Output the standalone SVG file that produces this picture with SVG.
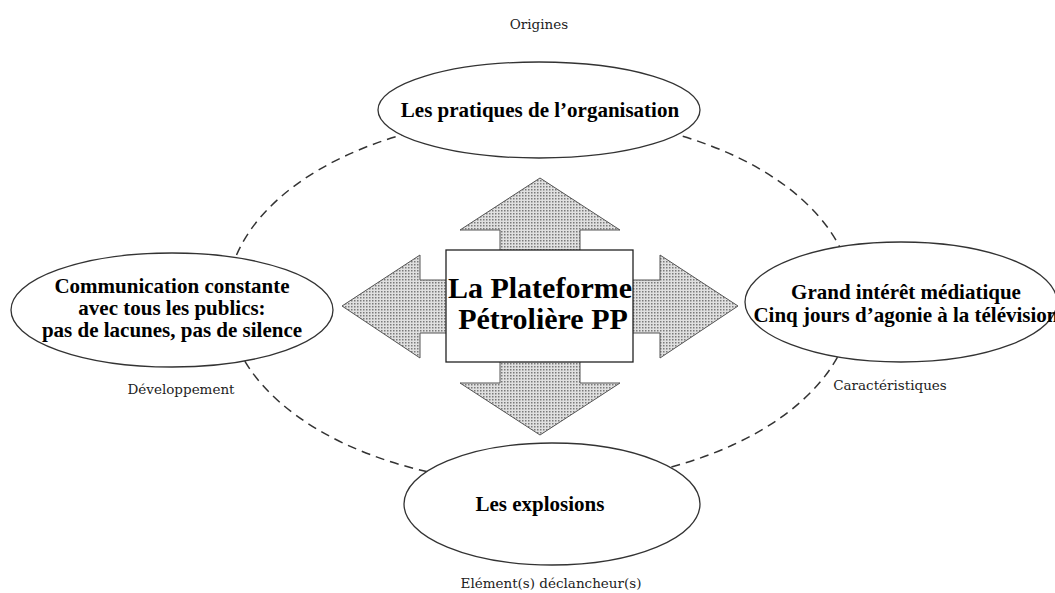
<svg xmlns="http://www.w3.org/2000/svg" width="1055" height="593" viewBox="0 0 1055 593">
<style>
.node{fill:#fff;stroke:#333;stroke-width:1.3}
.arrow{fill:url(#dots);stroke:#555;stroke-width:1}
.t{font-family:"Liberation Serif","Times New Roman",serif;font-weight:bold;font-size:21px;fill:#000;text-anchor:middle}
.big{font-family:"Liberation Serif","Times New Roman",serif;font-weight:bold;font-size:30px;fill:#000;text-anchor:middle}
.lab{font-family:"DejaVu Serif","Liberation Serif",serif;font-size:13.5px;fill:#222;text-anchor:middle}
.dash{fill:none;stroke:#333;stroke-width:1.5;stroke-dasharray:9 6}
</style>
<defs>
<pattern id="dots" width="3" height="3" patternUnits="userSpaceOnUse">
<rect width="3" height="3" fill="#e0e0e0"/>
<rect width="1.5" height="1.5" fill="#7a7a7a"/>
</pattern>
</defs>
<rect width="1055" height="593" fill="#fff"/>
<g id="connectors">
<ellipse class="dash" cx="540" cy="300" rx="313" ry="184"/>
</g>
<g id="center">
<polygon class="arrow" points="540,178 620,230 580,230 580,260 500,260 500,230 460,230"/>
<polygon class="arrow" points="540,435 620,383 580,383 580,350 500,350 500,383 460,383"/>
<polygon class="arrow" points="342,306 420,255 420,280 456,280 456,333 420,333 420,358"/>
<polygon class="arrow" points="738,306 660,255 660,280 623,280 623,333 660,333 660,358"/>
<rect x="446" y="250" width="187" height="112" fill="#fff" stroke="#222" stroke-width="1.3"/>
<text class="big" x="540" y="298">La Plateforme</text>
<text class="big" x="543" y="329">Pétrolière PP</text>
</g>
<g id="node-top">
<ellipse class="node" cx="539" cy="110" rx="161" ry="48"/>
<text class="t" x="540" y="117">Les pratiques de l’organisation</text>
</g>
<g id="node-left">
<ellipse class="node" cx="172" cy="310" rx="161" ry="57"/>
<text class="t" x="172" y="293">Communication constante</text>
<text class="t" x="172" y="315">avec tous les publics:</text>
<text class="t" x="172" y="337">pas de lacunes, pas de silence</text>
</g>
<g id="node-right">
<ellipse class="node" cx="901" cy="302" rx="156" ry="60"/>
<text class="t" x="906" y="299">Grand intérêt médiatique</text>
<text class="t" x="906" y="322">Cinq jours d’agonie à la télévision</text>
</g>
<g id="node-bottom">
<ellipse class="node" cx="552" cy="504" rx="148" ry="61"/>
<text class="t" x="540" y="511">Les explosions</text>
</g>
<g id="labels">
<text class="lab" x="539" y="29">Origines</text>
<text class="lab" x="181" y="394">Développement</text>
<text class="lab" x="890" y="390">Caractéristiques</text>
<text class="lab" x="551" y="588">Elément(s) déclancheur(s)</text>
</g>
</svg>
